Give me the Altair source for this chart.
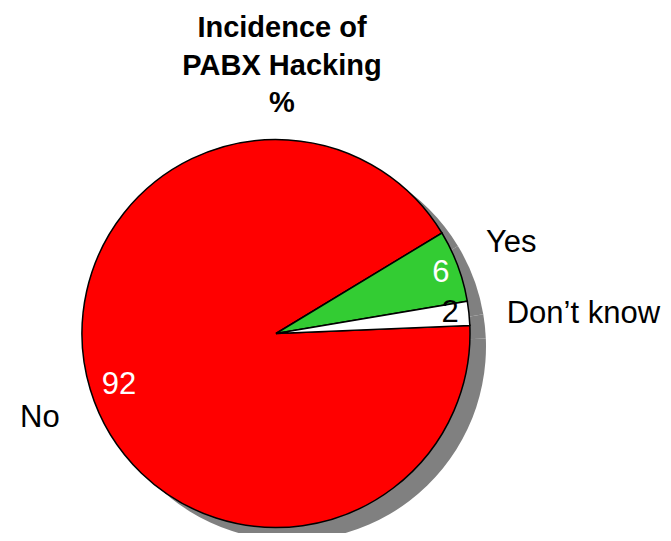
import math
import altair as alt
import pandas as pd

categories = ["No", "Yes", "Don\u2019t know"]
values = [92, 6, 2]
colors = ["#FF0000", "#33CC33", "#FFFFFF"]
title_lines = ["Incidence of", "PABX Hacking", "%"]

df = pd.DataFrame({"cat": categories, "value": values, "idx": list(range(len(categories)))})

start = math.radians(87.6)
theta_scale = alt.Scale(domain=[0, 100], range=[start, start + 2 * math.pi])
CX, CY = 268, 325.5
R = 194

base = alt.Chart(df).transform_stack(
    stack="value", groupby=[], as_=["v0", "v1"], sort=[alt.SortField("idx", order="ascending")]
).transform_calculate(mid="(datum.v0 + datum.v1) / 2")

shadow = base.mark_arc(outerRadius=R, color="#808080", stroke=None).encode(
    theta=alt.Theta("v0:Q", scale=theta_scale, stack=None),
    theta2="v1:Q",
    x=alt.value(CX + 16), y=alt.value(CY + 13),
)

pie = base.mark_arc(outerRadius=R, stroke="black", strokeWidth=1.5).encode(
    theta=alt.Theta("v0:Q", scale=theta_scale, stack=None),
    theta2="v1:Q",
    color=alt.Color("cat:N", scale=alt.Scale(domain=categories, range=colors), legend=None),
    x=alt.value(CX), y=alt.value(CY),
)

def label(cat, text_field, radius, dy, align, color):
    return base.transform_filter(alt.datum.cat == cat).mark_text(
        radius=radius, dy=dy, align=align, baseline="alphabetic",
        font="Liberation Sans", fontSize=31, color=color,
    ).encode(
        theta=alt.Theta("mid:Q", scale=theta_scale, stack=None),
        text=text_field,
        x=alt.value(CX), y=alt.value(CY),
    )

layers = [
    shadow, pie,
    label("Yes", "cat:N", 224, -3, "left", "black"),
    label("Don\u2019t know", "cat:N", 232, 14, "left", "black"),
    label("No", "cat:N", 226, 28, "right", "black"),
    label("Yes", "value:Q", 176, 10, "center", "white"),
    label("Don\u2019t know", "value:Q", 175, 7, "center", "black"),
    label("No", "value:Q", 164, 13, "center", "white"),
]

title = alt.Chart(df).mark_text(
    font="Liberation Sans", fontSize=29, fontWeight="bold", align="center",
    baseline="alphabetic", lineHeight=37.5, color="black",
).encode(text=alt.value(title_lines), x=alt.value(274), y=alt.value(29)).transform_filter(alt.datum.idx == 0)

chart = alt.layer(*layers, title).properties(
    width=655, height=525, autosize=alt.AutoSizeParams(type="none"), padding=0
).configure_view(stroke=None)

chart.save("out.html", embed_options={"renderer": "svg", "actions": False})
